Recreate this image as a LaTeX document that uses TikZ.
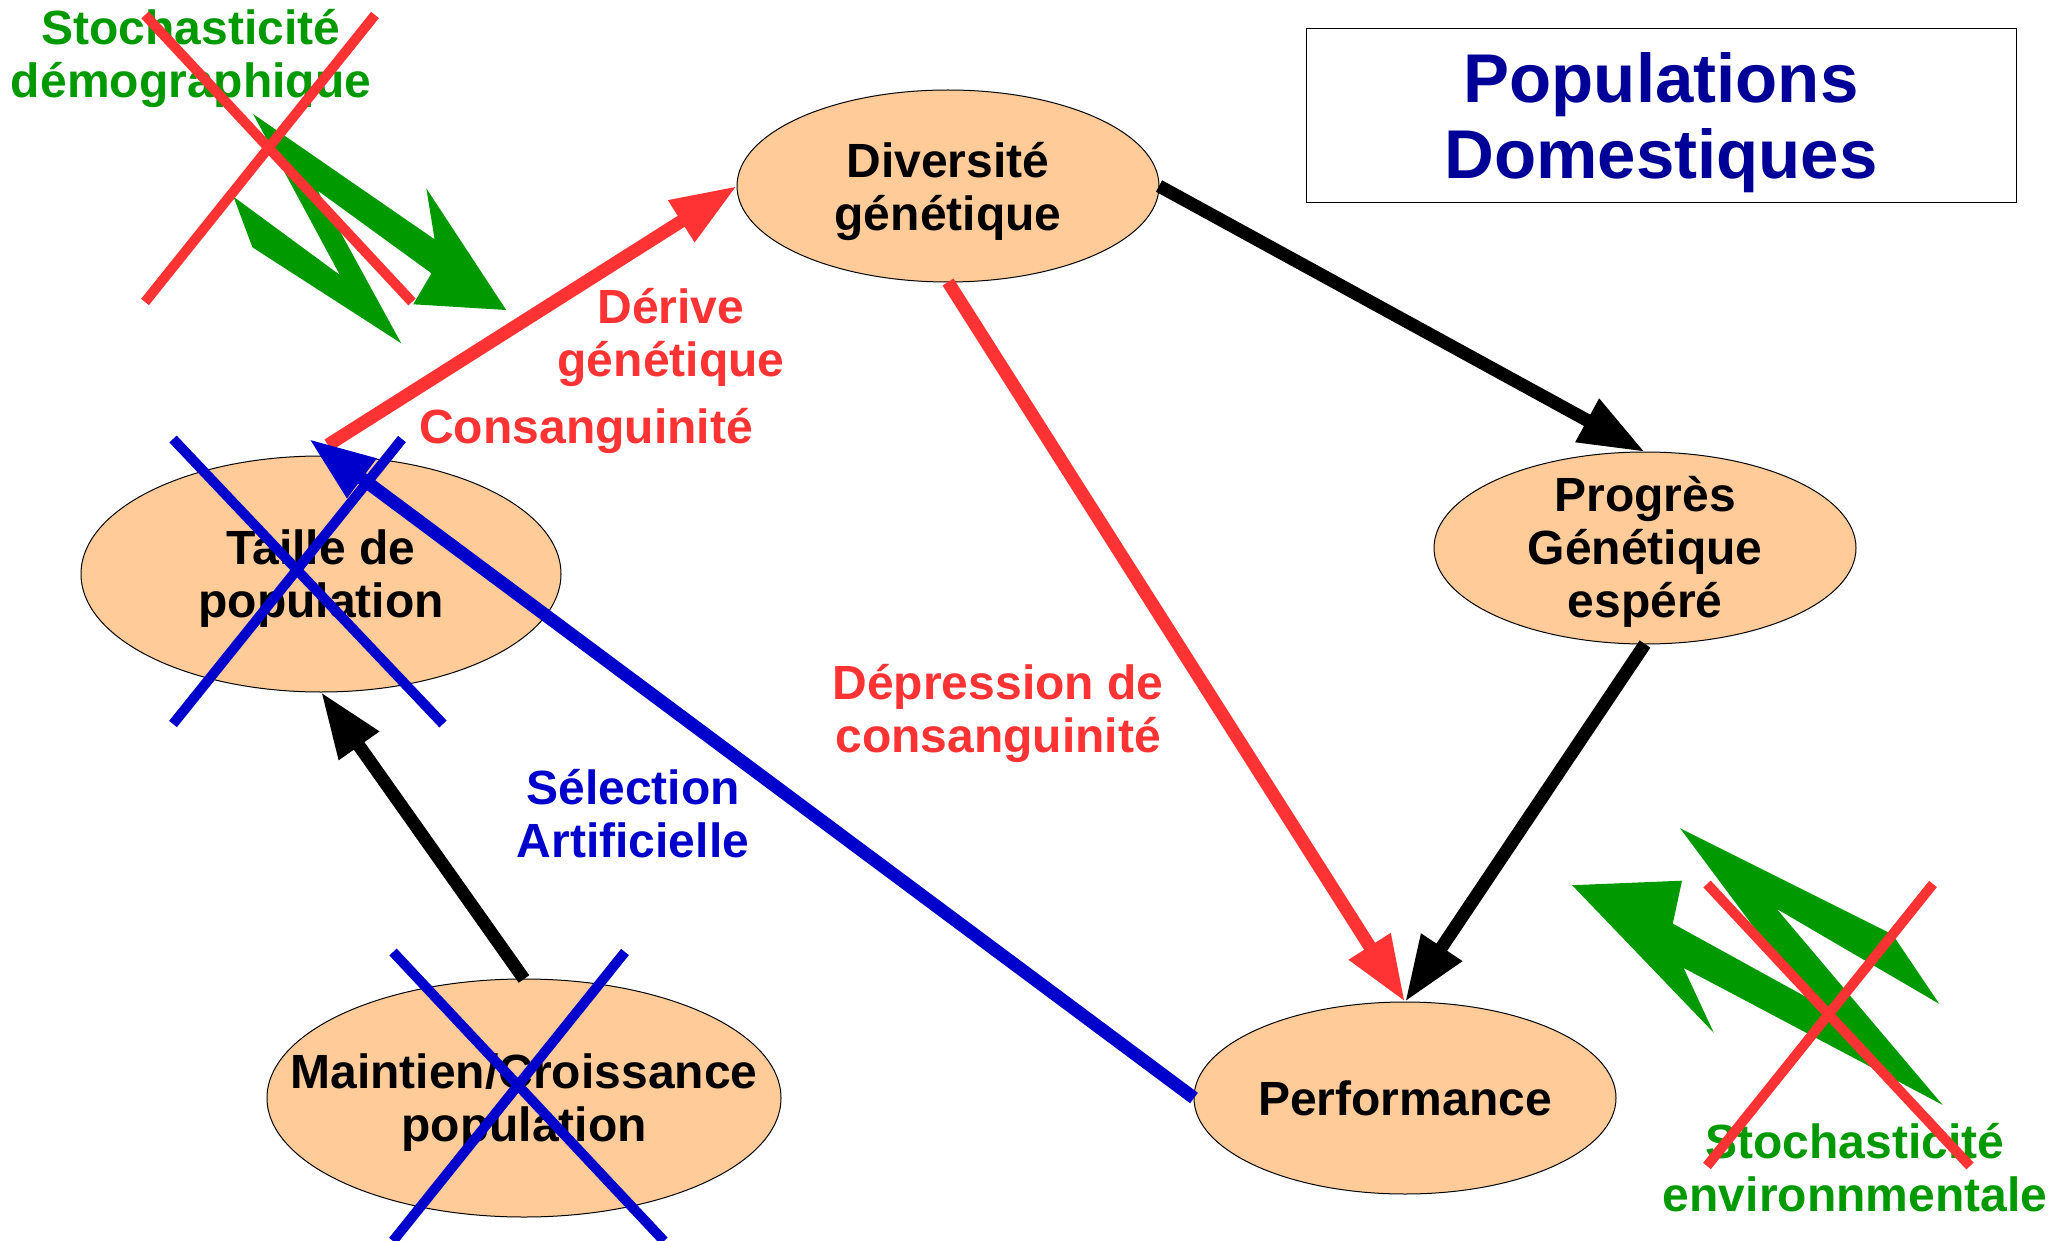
\documentclass[tikz,border=0pt]{standalone}
\usepackage{fontspec}
\setmainfont{Liberation Sans}
\usetikzlibrary{shapes.geometric,arrows.meta}
\definecolor{peach}{HTML}{FFCC99}
\definecolor{myred}{HTML}{FF3333}
\definecolor{mygreen}{HTML}{009900}
\definecolor{myblue}{HTML}{0000CC}
\definecolor{navy}{HTML}{000099}
\begin{document}
\begin{tikzpicture}[x=1pt,y=-1pt,
 ell/.style={ellipse,draw=black,line width=1pt,fill=peach,inner sep=0pt,outer sep=0pt},
 lab/.style={align=center,font=\fontsize{48}{53}\selectfont\bfseries,inner sep=0pt},
 conn/.style={line width=13pt,-{Triangle[length=66pt,width=46pt]}},
 crossline/.style={line width=10pt},
 bolt/.style={fill=mygreen,draw=none}]
\useasboundingbox (0,0) rectangle (2054,1241);

% ellipses
\node[ell,minimum width=422pt,minimum height=192pt] (div) at (948,186) {};
\node[ell,minimum width=480pt,minimum height=236pt] (taille) at (321,574) {};
\node[ell,minimum width=514pt,minimum height=238pt] (maint) at (524,1098) {};
\node[ell,minimum width=422pt,minimum height=192pt] (perf) at (1405,1098) {};
\node[ell,minimum width=422pt,minimum height=192pt] (prog) at (1645,548) {};

\node[lab,yshift=-5pt] (divt) at (div) {Diversité\\génétique};
\node[lab,yshift=-5pt] (taillet) at (taille) {Taille de\\population};
\node[lab,yshift=-5pt] (maintt) at (maint) {Maintien/Croissance\\population};
\node[lab] (perft) at (perf) {Performance};
\node[lab,yshift=-4pt] (progt) at (prog) {Progrès\\Génétique\\espéré};

% title
\node[draw=black,line width=1pt,minimum width=710pt,minimum height=174pt,inner sep=0pt] (titlebox) at (1661,116) {};
\node[align=center,text=navy,font=\fontsize{69}{76}\selectfont\bfseries,inner sep=0pt,yshift=-7pt] (titlet) at (titlebox) {Populations\\Domestiques};

% labels
\node[lab,text=myred] (derive) at (671,337) {Dérive\\génétique};
\node[lab,text=myred] (consang) at (586,431) {Consanguinité};
\node[lab,text=myred] (depress) at (998,713) {Dépression de\\consanguinité};
\node[lab,text=myblue] (selection) at (633,814) {Sélection\\Artificielle};
\node[lab,text=mygreen] (stodemo) at (191,58) {Stochasticité\\démographique};
\node[lab,text=mygreen] (stoenv) at (1855,1168) {Stochasticité\\environnmentale};

% connectors
\coordinate (redstart) at (328,445);
\coordinate (bluetip) at (309,439);
\draw[conn,myred] (redstart) -- (div.west);
\draw[conn,black] (div.east) -- (prog.north);
\draw[conn,myred] (div.south) -- (perf.north);
\draw[conn,black] (prog.south) -- (perf.north);
\draw[conn,myblue] (perf.west) -- (bluetip);
\draw[conn,black] (maint.north) -- (taille.south);

% green lightning arrows
\fill[mygreen] (233.5,196.7) -- (339.9,275) -- (253.1,114) -- (434.6,239.3) -- (426.3,188.3)
  -- (506.2,310) -- (413.2,304.3) -- (431.5,273.3) -- (317.8,190.7) -- (401.2,343.3)
  -- (252.4,247.3) -- cycle;
\fill[mygreen] (1939.3,1003.9) -- (1776.7,908.9) -- (1942.6,1104.9) -- (1683.6,967.9)
  -- (1713.8,1032.8) -- (1572.1,885.2) -- (1682.0,880.7) -- (1672.8,923.6)
  -- (1805.6,996.7) -- (1680.0,828.2) -- (1892.5,934.4) -- cycle;

% crosses
\draw[crossline,myred] (145,302) -- (375,15);
\draw[crossline,myred] (145,15) -- (412,302);
\draw[crossline,myred] (1707,884) -- (1970,1166);
\draw[crossline,myred] (1933,884) -- (1707,1166);
\draw[crossline,myblue] (173,439) -- (443,724);
\draw[crossline,myblue] (402,439) -- (173,724);
\draw[crossline,myblue] (393,952) -- (664,1241);
\draw[crossline,myblue] (625,952) -- (393,1241);
\end{tikzpicture}
\end{document}
